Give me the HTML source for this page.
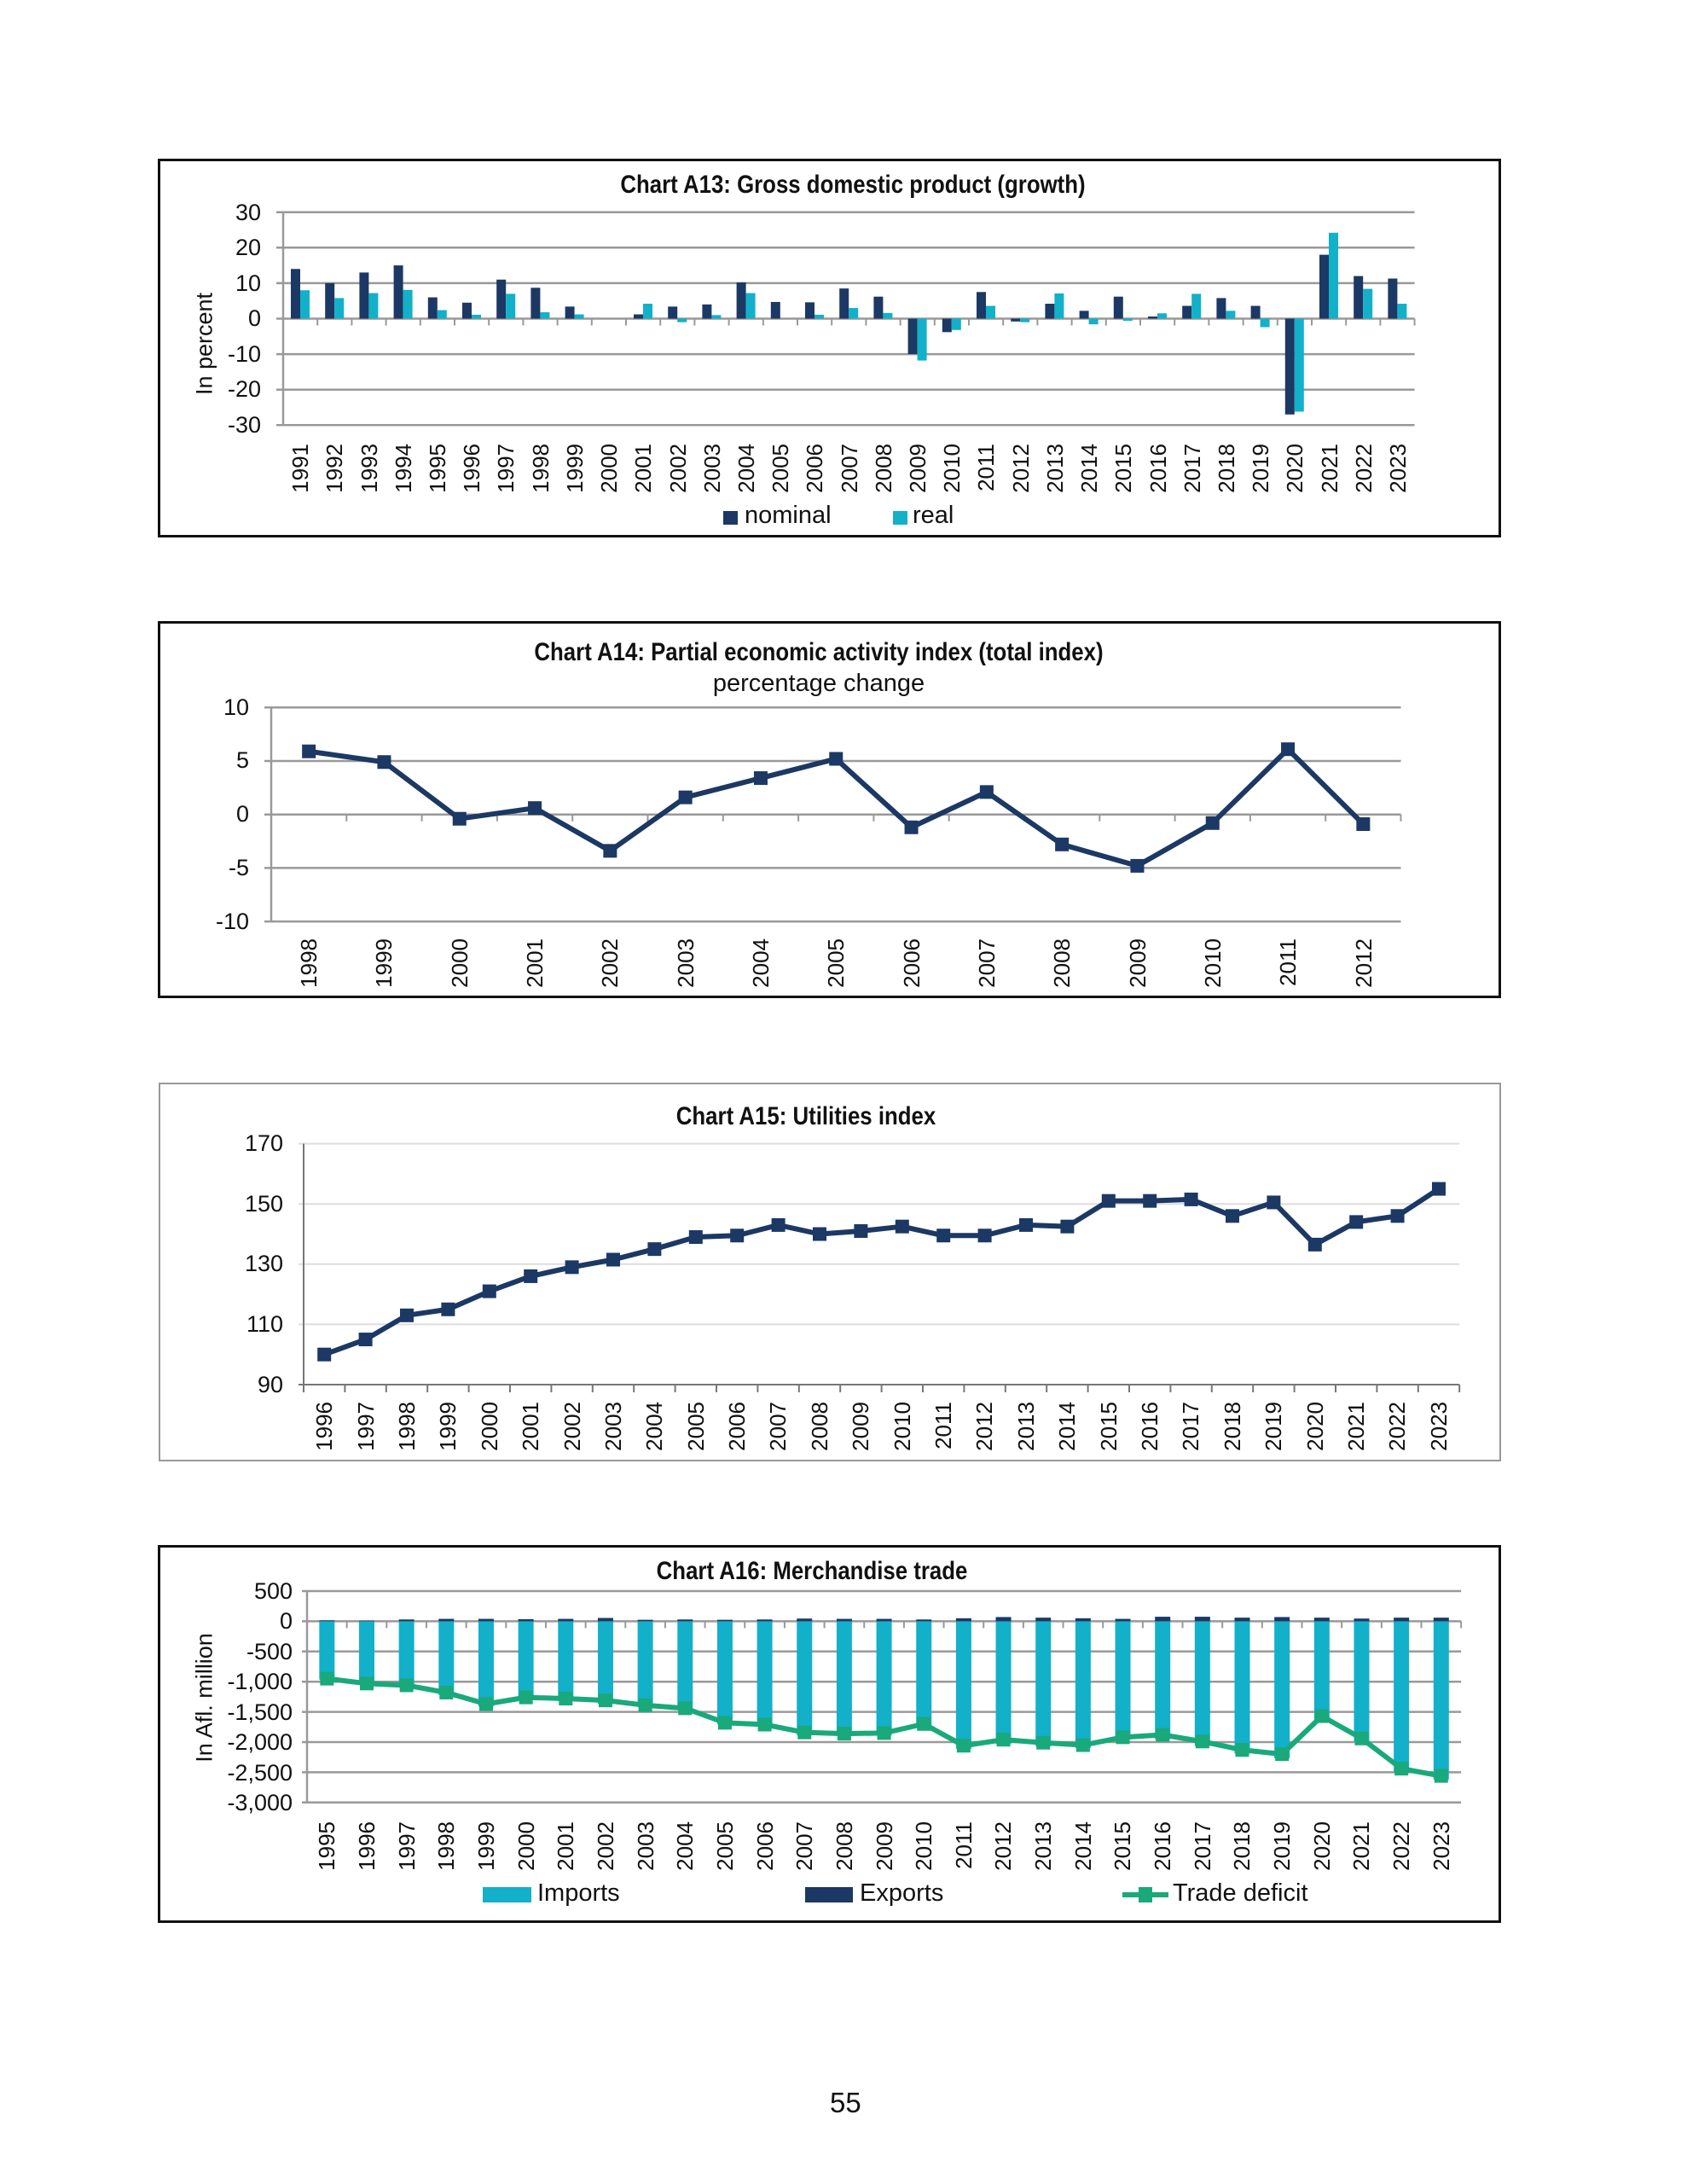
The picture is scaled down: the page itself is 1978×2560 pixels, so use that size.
<!DOCTYPE html>
<html><head><meta charset="utf-8">
<style>
html,body{margin:0;padding:0;background:#fff;}
body{width:1978px;height:2560px;position:relative;overflow:hidden;font-family:"Liberation Sans",sans-serif;color:#111;}
.box{position:absolute;box-sizing:border-box;}
.t{position:absolute;white-space:nowrap;font-family:"Liberation Sans Narrow","Liberation Sans",sans-serif;}
.title{font-weight:bold;font-size:30px;transform:translateX(-50%) scaleX(0.86);}
.yl{position:absolute;font-size:27px;text-align:right;width:80px;line-height:28px;}
.row{position:absolute;display:flex;}
.row div{flex:1;display:flex;justify-content:center;align-items:flex-start;}
.row span{writing-mode:vertical-rl;transform:rotate(180deg);font-size:26px;line-height:26px;}
.ytitle{position:absolute;font-size:27px;transform:translate(-50%,-50%) rotate(-90deg);white-space:nowrap;}
svg{position:absolute;left:0;top:0;}
</style></head><body>

<div class="box" style="left:185px;top:186px;width:1575px;height:444px;border:3px solid #111;"></div>
<div class="box" style="left:185px;top:728px;width:1575px;height:442px;border:3px solid #111;"></div>
<div class="box" style="left:186px;top:1269px;width:1574px;height:444px;border:2px solid #999;"></div>
<div class="box" style="left:185px;top:1811px;width:1575px;height:443px;border:3px solid #111;"></div>

<svg id="s" width="1978" height="2560"></svg>

<!-- A13 -->
<div class="t title" style="left:1000px;top:200px;">Chart A13: Gross domestic product (growth)</div>
<div class="ytitle" style="left:240px;top:403px;">In percent</div>
<div class="yl" style="left:226px;top:235px;">30</div>
<div class="yl" style="left:226px;top:276px;">20</div>
<div class="yl" style="left:226px;top:318px;">10</div>
<div class="yl" style="left:226px;top:359px;">0</div>
<div class="yl" style="left:226px;top:401px;">-10</div>
<div class="yl" style="left:226px;top:442px;">-20</div>
<div class="yl" style="left:226px;top:484px;">-30</div>
<div class="row" style="left:332px;width:1327px;top:520px;">
<div><span>1991</span></div><div><span>1992</span></div><div><span>1993</span></div><div><span>1994</span></div><div><span>1995</span></div><div><span>1996</span></div><div><span>1997</span></div><div><span>1998</span></div><div><span>1999</span></div><div><span>2000</span></div><div><span>2001</span></div><div><span>2002</span></div><div><span>2003</span></div><div><span>2004</span></div><div><span>2005</span></div><div><span>2006</span></div><div><span>2007</span></div><div><span>2008</span></div><div><span>2009</span></div><div><span>2010</span></div><div><span>2011</span></div><div><span>2012</span></div><div><span>2013</span></div><div><span>2014</span></div><div><span>2015</span></div><div><span>2016</span></div><div><span>2017</span></div><div><span>2018</span></div><div><span>2019</span></div><div><span>2020</span></div><div><span>2021</span></div><div><span>2022</span></div><div><span>2023</span></div>
</div>
<div style="position:absolute;left:848px;top:599px;width:17px;height:16px;background:#1c3864;"></div>
<div class="t" style="left:873px;top:588px;font-size:29px;font-family:'Liberation Sans',sans-serif;">nominal</div>
<div style="position:absolute;left:1047px;top:599px;width:17px;height:16px;background:#13b0c9;"></div>
<div class="t" style="left:1070px;top:588px;font-size:29px;font-family:'Liberation Sans',sans-serif;">real</div>

<!-- A14 -->
<div class="t title" style="left:960px;top:748px;">Chart A14: Partial economic activity index (total index)</div>
<div class="t" style="left:960px;top:785px;font-size:29px;transform:translateX(-50%);">percentage change</div>
<div class="yl" style="left:212px;top:815px;">10</div>
<div class="yl" style="left:212px;top:877px;">5</div>
<div class="yl" style="left:212px;top:940px;">0</div>
<div class="yl" style="left:212px;top:1003px;">-5</div>
<div class="yl" style="left:212px;top:1066px;">-10</div>
<div class="row" style="left:318px;width:1325px;top:1100px;">
<div><span>1998</span></div><div><span>1999</span></div><div><span>2000</span></div><div><span>2001</span></div><div><span>2002</span></div><div><span>2003</span></div><div><span>2004</span></div><div><span>2005</span></div><div><span>2006</span></div><div><span>2007</span></div><div><span>2008</span></div><div><span>2009</span></div><div><span>2010</span></div><div><span>2011</span></div><div><span>2012</span></div>
</div>

<!-- A15 -->
<div class="t title" style="left:945px;top:1292px;">Chart A15: Utilities index</div>
<div class="yl" style="left:252px;top:1326px;">170</div>
<div class="yl" style="left:252px;top:1397px;">150</div>
<div class="yl" style="left:252px;top:1467px;">130</div>
<div class="yl" style="left:252px;top:1538px;">110</div>
<div class="yl" style="left:252px;top:1609px;">90</div>
<div class="row" style="left:356px;width:1355px;top:1643px;">
<div><span>1996</span></div><div><span>1997</span></div><div><span>1998</span></div><div><span>1999</span></div><div><span>2000</span></div><div><span>2001</span></div><div><span>2002</span></div><div><span>2003</span></div><div><span>2004</span></div><div><span>2005</span></div><div><span>2006</span></div><div><span>2007</span></div><div><span>2008</span></div><div><span>2009</span></div><div><span>2010</span></div><div><span>2011</span></div><div><span>2012</span></div><div><span>2013</span></div><div><span>2014</span></div><div><span>2015</span></div><div><span>2016</span></div><div><span>2017</span></div><div><span>2018</span></div><div><span>2019</span></div><div><span>2020</span></div><div><span>2021</span></div><div><span>2022</span></div><div><span>2023</span></div>
</div>

<!-- A16 -->
<div class="t title" style="left:952px;top:1825px;">Chart A16: Merchandise trade</div>
<div class="ytitle" style="left:240px;top:1990px;">In Afl. million</div>
<div class="yl" style="left:263px;top:1851px;">500</div>
<div class="yl" style="left:263px;top:1886px;">0</div>
<div class="yl" style="left:263px;top:1922px;">-500</div>
<div class="yl" style="left:263px;top:1957px;">-1,000</div>
<div class="yl" style="left:263px;top:1993px;">-1,500</div>
<div class="yl" style="left:263px;top:2028px;">-2,000</div>
<div class="yl" style="left:263px;top:2064px;">-2,500</div>
<div class="yl" style="left:263px;top:2099px;">-3,000</div>
<div class="row" style="left:360px;width:1353px;top:2135px;">
<div><span>1995</span></div><div><span>1996</span></div><div><span>1997</span></div><div><span>1998</span></div><div><span>1999</span></div><div><span>2000</span></div><div><span>2001</span></div><div><span>2002</span></div><div><span>2003</span></div><div><span>2004</span></div><div><span>2005</span></div><div><span>2006</span></div><div><span>2007</span></div><div><span>2008</span></div><div><span>2009</span></div><div><span>2010</span></div><div><span>2011</span></div><div><span>2012</span></div><div><span>2013</span></div><div><span>2014</span></div><div><span>2015</span></div><div><span>2016</span></div><div><span>2017</span></div><div><span>2018</span></div><div><span>2019</span></div><div><span>2020</span></div><div><span>2021</span></div><div><span>2022</span></div><div><span>2023</span></div>
</div>
<div style="position:absolute;left:566px;top:2212px;width:57px;height:18px;background:#13b0c9;"></div>
<div class="t" style="left:630px;top:2203px;font-size:29px;">Imports</div>
<div style="position:absolute;left:944px;top:2212px;width:56px;height:18px;background:#1c3864;"></div>
<div class="t" style="left:1008px;top:2203px;font-size:29px;">Exports</div>
<div style="position:absolute;left:1316px;top:2218px;width:54px;height:6px;background:#19a97b;"></div>
<div style="position:absolute;left:1335px;top:2212px;width:16px;height:18px;background:#19a97b;"></div>
<div class="t" style="left:1375px;top:2203px;font-size:29px;">Trade deficit</div>

<div style="position:absolute;left:973px;top:2446px;font-size:33px;">55</div>

<script>
var NS="http://www.w3.org/2000/svg",S=document.getElementById('s');
function el(n,a){var e=document.createElementNS(NS,n);for(var k in a)e.setAttribute(k,a[k]);S.appendChild(e);return e;}
function line(x1,y1,x2,y2,c,w){el('line',{x1:x1,y1:y1,x2:x2,y2:y2,stroke:c,'stroke-width':w});}
var NAVY="#1c3864",CY="#13b0c9",GR="#19a97b";
// A13
(function(){var x0=332,w=40.2,n=33,x1=x0+w*n,y=function(v){return 373.5-v*4.16;};
for(var v=30;v>=-30;v-=10){line(x0-8,y(v),x1,y(v),'#999',2.5);}
line(x0,y(30),x0,y(-30),'#999',2.5);
for(var i=0;i<=n;i++)line(x0+i*w,y(0),x0+i*w,y(0)+8,'#999',2);
var nom=[14,10,13,15,6,4.5,11,8.7,3.4,0,1.2,3.4,4,10.2,4.7,4.6,8.5,6.2,-10,-3.8,7.5,-0.8,4.2,2.2,6.2,0.6,3.6,5.8,3.6,-27,18,12,11.3];
var rea=[8,5.8,7.2,8.1,2.4,1.1,7,1.8,1.2,0,4.2,-1,1,7.2,0,1.1,3,1.6,-11.8,-3.2,3.6,-1,7.1,-1.6,-0.6,1.5,7,2.2,-2.4,-26.2,24.2,8.4,4.2];
for(var i=0;i<n;i++){var bx=x0+i*w+9;
[[nom[i],NAVY,0],[rea[i],CY,11]].forEach(function(p){var a=y(0),b=y(p[0]);el('rect',{x:bx+p[2],y:Math.min(a,b),width:11,height:Math.abs(a-b),fill:p[1]});});}
})();
// A14
(function(){var x0=318,w=88.3,n=15,x1=x0+w*n,y=function(v){return 954.7-v*12.54;};
for(var v=10;v>=-10;v-=5){line(x0-8,y(v),x1,y(v),'#999',2.5);}
line(x0,y(10),x0,y(-10),'#999',2.5);
for(var i=0;i<=n;i++)line(x0+i*w,y(0),x0+i*w,y(0)+8,'#999',2);
var d=[5.9,4.9,-0.4,0.6,-3.4,1.6,3.4,5.2,-1.2,2.1,-2.8,-4.8,-0.8,6.1,-0.9],pts=[];
for(var i=0;i<n;i++)pts.push((x0+(i+.5)*w)+','+y(d[i]));
el('polyline',{points:pts.join(' '),fill:'none',stroke:NAVY,'stroke-width':6,'stroke-linejoin':'round'});
for(var i=0;i<n;i++)el('rect',{x:x0+(i+.5)*w-8,y:y(d[i])-8,width:16,height:16,fill:NAVY});
})();
// A15
(function(){var x0=356,w=48.4,n=28,x1=x0+w*n,y=function(v){return 1623-(v-90)*3.53;};
for(var v=170;v>90;v-=20){line(x0-6,y(v),x1,y(v),'#ddd',2);}
line(x0-6,y(90),x1,y(90),'#777',2);
line(x0,y(170),x0,y(90),'#777',2);
for(var i=0;i<=n;i++)line(x0+i*w,y(90),x0+i*w,y(90)+9,'#777',2);
var d=[100,105,113,115,121,126,129,131.5,135,139,139.5,143,140,141,142.5,139.5,139.5,143,142.5,151,151,151.5,146,150.5,136.5,144,146,155],pts=[];
for(var i=0;i<n;i++)pts.push((x0+(i+.5)*w)+','+y(d[i]));
el('polyline',{points:pts.join(' '),fill:'none',stroke:NAVY,'stroke-width':6,'stroke-linejoin':'round'});
for(var i=0;i<n;i++)el('rect',{x:x0+(i+.5)*w-8,y:y(d[i])-8,width:16,height:16,fill:NAVY});
})();
// A16
(function(){var x0=360,w=46.66,n=29,x1=x0+w*n,y=function(v){return 1900.4-v*0.0708;};
for(var v=500;v>=-3000;v-=500){line(x0-6,y(v),x1,y(v),'#999',2.5);}
line(x0,y(500),x0,y(-3000),'#999',2.5);
var def=[-950,-1030,-1060,-1180,-1370,-1260,-1280,-1310,-1390,-1440,-1680,-1710,-1840,-1860,-1850,-1700,-2060,-1960,-2010,-2050,-1920,-1880,-1990,-2130,-2200,-1570,-1940,-2440,-2560];
var ex=[15,10,30,40,40,35,40,55,25,30,25,30,45,40,40,30,50,70,60,50,40,75,75,60,70,60,45,60,60];
for(var i=0;i<n;i++){var bx=x0+(i+.5)*w-9;var imp=def[i]-ex[i];
el('rect',{x:bx,y:y(0),width:18,height:y(imp)-y(0),fill:CY});
el('rect',{x:bx,y:y(ex[i]),width:18,height:y(0)-y(ex[i]),fill:NAVY});}
for(var i=0;i<=n;i++)line(x0+i*w,y(0),x0+i*w,y(0)+8,'#999',2);
var pts=[];for(var i=0;i<n;i++)pts.push((x0+(i+.5)*w)+','+y(def[i]));
el('polyline',{points:pts.join(' '),fill:'none',stroke:GR,'stroke-width':6,'stroke-linejoin':'round'});
for(var i=0;i<n;i++)el('rect',{x:x0+(i+.5)*w-8,y:y(def[i])-8,width:16,height:16,fill:GR});
})();
</script>
</body></html>
